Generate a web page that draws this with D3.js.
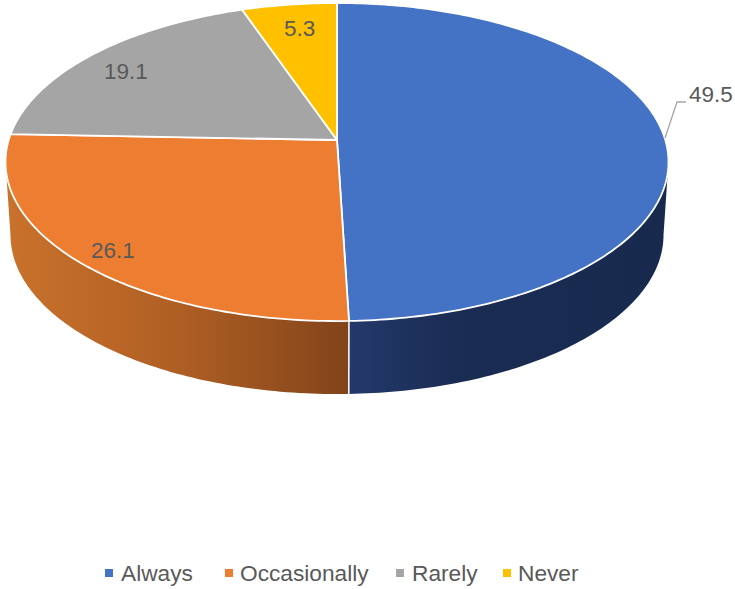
<!DOCTYPE html>
<html>
<head>
<meta charset="utf-8">
<script src="https://cdn.jsdelivr.net/npm/d3@7"></script>
<style>
    html, body { margin: 0; padding: 0; background: #fff; }
    svg { display: block; }
    text { font-family: "Liberation Sans", Arial, sans-serif; fill: #595959; }
</style>
</head>
<body>
<svg width="735" height="589"></svg>
<script>
var categories = ["Always", "Occasionally", "Rarely", "Never"]
var values = [49.5, 26.1, 19.1, 5.3]
var colors = ["#4472C4", "#ED7D31", "#A5A5A5", "#FFC000"]

var svg = d3.select("svg")

// perspective of the disc: apex of the slices, half axes, tilt
var cx = 337, cy = 140, R = 328.3, S = 156, k = 0.1384
// bottom disc is a bit narrower and shifted down
var bottomScale = 0.985, bottomY = 213

function project(a, level) {
    var s = level ? bottomScale : 1
    var X = Math.sin(a), Y = -Math.cos(a), w = 1 - k * Y
    return [cx + s * R * X / w, (level ? bottomY : cy) + S * Y / w]
}

var color = d3.scaleOrdinal().domain(categories).range(colors)
var slices = d3.pie().sort(null).value(d => d)(values)
var line = d3.line()

function rim(a0, a1, level) {
    var n = Math.max(2, Math.ceil(Math.abs(a1 - a0) * 60))
    return d3.range(n + 1).map(i => project(a0 + (a1 - a0) * i / n, level))
}

// side wall gradients
var defs = svg.append("defs")
function gradient(id, x1, x2, stops) {
    var g = defs.append("linearGradient").attr("id", id)
        .attr("gradientUnits", "userSpaceOnUse")
        .attr("x1", x1).attr("x2", x2).attr("y1", 0).attr("y2", 0)
    stops.forEach(s => g.append("stop").attr("offset", s[0]).attr("stop-color", s[1]))
}
gradient("sideBlue", 349, 668, [[0, "#24396B"], [0.35, "#1A2C52"], [1, "#172A4E"]])
gradient("sideOrange", 5, 349, [[0, "#C9722C"], [0.5, "#B05F24"], [1, "#82441A"]])

// side walls, only the visible front part
var edge = Math.acos(-k)
var walls = [
    [edge, slices[0].endAngle, "url(#sideBlue)"],
    [slices[1].startAngle, 2 * Math.PI - edge, "url(#sideOrange)"]
]
svg.selectAll("path.wall").data(walls).enter().append("path")
    .attr("class", "wall")
    .attr("fill", d => d[2])
    .attr("d", d => line(rim(d[0], d[1], 0).concat(rim(d[1], d[0], 1))) + "Z")

// seam between the two walls
var seam = slices[0].endAngle
svg.append("path")
    .attr("d", line([project(seam, 0), project(seam, 1)]))
    .attr("stroke", "#fff").attr("stroke-width", 1.5).attr("fill", "none")

// top of the pie
svg.selectAll("path.slice").data(slices).enter().append("path")
    .attr("class", "slice")
    .attr("fill", (d, i) => color(categories[i]))
    .attr("stroke", "#fff").attr("stroke-width", 1.8).attr("stroke-linejoin", "round")
    .attr("d", d => line([[cx, cy]].concat(rim(d.startAngle, d.endAngle, 0))) + "Z")

// data labels
var labelPos = [[689, 102], [91, 258], [104, 79], [284, 36]]
svg.selectAll("text.value").data(values).enter().append("text")
    .attr("class", "value")
    .attr("x", (d, i) => labelPos[i][0]).attr("y", (d, i) => labelPos[i][1])
    .attr("font-size", 22.5)
    .text(d => d3.format(".1f")(d))

// leader line of the first label
svg.append("path")
    .attr("d", line([[665, 138], [677, 102], [686, 102]]))
    .attr("fill", "none").attr("stroke", "#A6A6A6").attr("stroke-width", 1.3)

// legend
var swatchX = [105, 225, 396, 503], legendX = [121, 240, 412, 518]
var legend = svg.selectAll("g.legend").data(categories).enter().append("g")
    .attr("class", "legend")
legend.append("rect")
    .attr("x", (d, i) => swatchX[i]).attr("y", 569)
    .attr("width", 8).attr("height", 8)
    .attr("fill", d => color(d))
legend.append("text")
    .attr("x", (d, i) => legendX[i]).attr("y", 581)
    .attr("font-size", 22.7)
    .text(d => d)
</script>
</body>
</html>
